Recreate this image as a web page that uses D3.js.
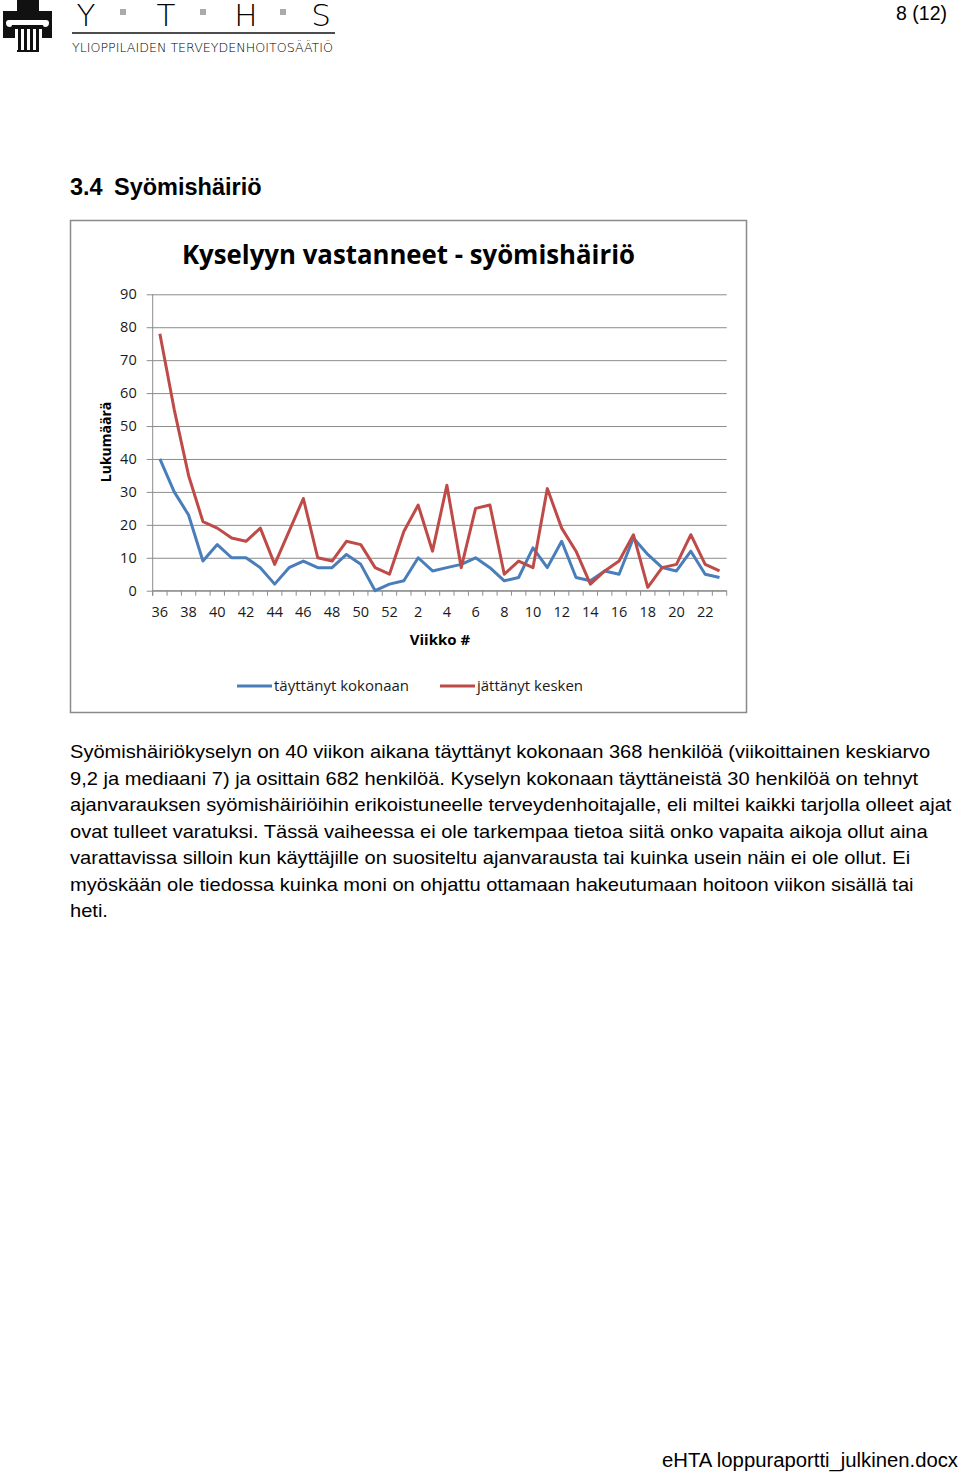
<!DOCTYPE html>
<meta charset="utf-8">
<style>
body { margin: 0; background: #fff; }
svg { display: block; }
.doc { font-family: "Liberation Sans", Arial, sans-serif; fill: #000; }
.chart text { font-family: "Open Sans", "DejaVu Sans", sans-serif; fill: #1a1a1a; }
.grid line { stroke: #8c8c8c; stroke-width: 1; }
.grid .domain { display: none; }
.xax .domain, .xax line { display: none; }
</style>
<body>
<div id="page"></div>
<script src="https://cdn.jsdelivr.net/npm/d3@7"></script>
<script>

// week numbers, autumn 36..52 then spring 1..23
var weeks = [36, 37, 38, 39, 40, 41, 42, 43, 44, 45, 46, 47, 48, 49, 50, 51, 52,
             1, 2, 3, 4, 5, 6, 7, 8, 9, 10, 11, 12, 13, 14, 15, 16, 17, 18, 19, 20, 21, 22, 23];

// täyttänyt kokonaan (blue)
var completed = [40, 30, 23, 9, 14, 10, 10, 7, 2, 7, 9, 7, 7,
                 11, 8, 0, 2, 3, 10, 6, 7, 8, 10, 7, 3, 4,
                 13, 7, 15, 4, 3, 6, 5, 16, 11, 7, 6, 12, 5, 4];

// jättänyt kesken (red)
var abandoned = [78, 55, 35, 21, 19, 16, 15, 19, 8, 18, 28, 10, 9,
                 15, 14, 7, 5, 18, 26, 12, 32, 7, 25, 26, 5, 9,
                 7, 31, 19, 12, 2, 6, 9, 17, 1, 7, 8, 17, 8, 6];

var yTicks = [0, 10, 20, 30, 40, 50, 60, 70, 80, 90];

var seriesNames = ["täyttänyt kokonaan", "jättänyt kesken"];
var seriesColors = ["#4a7ebb", "#be4b48"];

var bodyLines = [
  "Syömishäiriökyselyn on 40 viikon aikana täyttänyt kokonaan 368 henkilöä (viikoittainen keskiarvo",
  "9,2 ja mediaani 7) ja osittain 682 henkilöä. Kyselyn kokonaan täyttäneistä 30 henkilöä on tehnyt",
  "ajanvarauksen syömishäiriöihin erikoistuneelle terveydenhoitajalle, eli miltei kaikki tarjolla olleet ajat",
  "ovat tulleet varatuksi. Tässä vaiheessa ei ole tarkempaa tietoa siitä onko vapaita aikoja ollut aina",
  "varattavissa silloin kun käyttäjille on suositeltu ajanvarausta tai kuinka usein näin ei ole ollut. Ei",
  "myöskään ole tiedossa kuinka moni on ohjattu ottamaan hakeutumaan hoitoon viikon sisällä tai",
  "heti."
];

var W = 960, H = 1473;

var svg = d3.select("#page").append("svg")
    .attr("width", W)
    .attr("height", H);

drawHeader();
drawChart();
drawBody();

function drawHeader(){
  var g = svg.append("g");

  // logo mark: black cross with a white column inside
  g.append("path")
    .attr("d", "M17,0 H39 V11 H52 V38 H39 V52 H17 V38 H3 V11 H17 Z")
    .attr("fill", "#111");
  g.append("path")
    .attr("d", "M9,20 H46 Q49,20 49,23 Q49,27 45,27 Q43,27 43,25 L12,25 Q12,27 10,27 Q6,27 6,23 Q6,20 9,20 Z")
    .attr("fill", "#fff");
  [15, 21, 27, 33, 39].forEach(function(x){
    g.append("rect").attr("x", x).attr("y", 29).attr("width", 3).attr("height", 21).attr("fill", "#fff");
  });

  var letters = ["Y", "T", "H", "S"];
  var lx = [86, 166, 246, 321];
  letters.forEach(function(l, i){
    g.append("text")
      .attr("x", lx[i]).attr("y", 26)
      .attr("text-anchor", "middle")
      .style("font-family", "'DejaVu Sans', sans-serif")
      .style("font-weight", 200)
      .style("font-size", "31px")
      .text(l);
  });
  [123, 203, 283].forEach(function(x){
    g.append("rect").attr("x", x - 3).attr("y", 9).attr("width", 6).attr("height", 6).attr("fill", "#aaa");
  });
  g.append("line")
    .attr("x1", 72).attr("x2", 335).attr("y1", 33).attr("y2", 33)
    .attr("stroke", "#111").attr("stroke-width", 1.5);
  g.append("text")
    .attr("x", 72).attr("y", 52)
    .attr("textLength", 261).attr("lengthAdjust", "spacingAndGlyphs")
    .style("font-family", "'DejaVu Sans', sans-serif")
    .style("font-weight", 200)
    .style("font-size", "12px")
    .text("YLIOPPILAIDEN TERVEYDENHOITOSÄÄTIÖ");

  svg.append("text").attr("class", "doc")
    .attr("x", 947).attr("y", 20)
    .attr("text-anchor", "end")
    .style("font-size", "19.5px")
    .text("8 (12)");

  svg.append("text").attr("class", "doc")
    .attr("x", 70).attr("y", 195)
    .style("font-size", "23.5px").style("font-weight", "bold")
    .text("3.4");
  svg.append("text").attr("class", "doc")
    .attr("x", 114).attr("y", 195)
    .style("font-size", "23.5px").style("font-weight", "bold")
    .text("Syömishäiriö");
}

function drawChart(){
  var g = svg.append("g").attr("class", "chart");

  g.append("rect")
    .attr("x", 70.5).attr("y", 220.5)
    .attr("width", 676).attr("height", 492)
    .attr("fill", "#fff")
    .attr("stroke", "#8a8a8a").attr("stroke-width", 1.5);

  g.append("text")
    .attr("x", 182).attr("y", 264)
    .attr("textLength", 453).attr("lengthAdjust", "spacingAndGlyphs")
    .style("font-size", "27px").style("font-weight", "bold")
    .style("fill", "#000")
    .text("Kyselyyn vastanneet - syömishäiriö");

  var x0 = 152.7, x1 = 726.7, y0 = 590.7, y1 = 294.3;

  var x = d3.scaleBand()
    .domain(d3.range(weeks.length))
    .range([x0, x1])
    .padding(0);

  var y = d3.scaleLinear()
    .domain([0, 90])
    .range([y0, y1]);

  // gridlines + y labels
  var yAxis = d3.axisLeft(y)
    .tickValues(yTicks)
    .tickSize(-(x1 - x0))
    .tickPadding(17)
    .tickSizeOuter(0);

  var gy = g.append("g")
    .attr("class", "grid")
    .attr("transform", "translate(" + x0 + ",0)")
    .call(yAxis);
  gy.selectAll(".tick line").attr("x1", -6);
  gy.selectAll("text")
    .attr("x", -16)
    .style("font-size", "14.5px")
    .style("fill", "#1a1a1a");

  // axis lines
  g.append("line")
    .attr("x1", x0).attr("x2", x0).attr("y1", y1).attr("y2", y0 + 5)
    .attr("stroke", "#8c8c8c");
  g.append("line")
    .attr("x1", x0).attr("x2", x1).attr("y1", y0).attr("y2", y0)
    .attr("stroke", "#8c8c8c");

  // category boundary ticks
  g.selectAll(".btick")
    .data(d3.range(weeks.length + 1))
    .enter().append("line")
    .attr("class", "btick")
    .attr("x1", function(k){ return x0 + k * x.bandwidth(); })
    .attr("x2", function(k){ return x0 + k * x.bandwidth(); })
    .attr("y1", y0).attr("y2", y0 + 5)
    .attr("stroke", "#8c8c8c");

  // x labels, every other week
  var xAxis = d3.axisBottom(x)
    .tickValues(d3.range(0, weeks.length, 2))
    .tickFormat(function(i){ return weeks[i]; })
    .tickSize(0)
    .tickPadding(16);

  g.append("g")
    .attr("class", "xax")
    .attr("transform", "translate(0," + y0 + ")")
    .call(xAxis)
    .selectAll("text")
    .style("font-size", "14.5px")
    .style("fill", "#1a1a1a");

  var line = d3.line()
    .x(function(d, i){ return x(i) + x.bandwidth() / 2; })
    .y(function(d){ return y(d); });

  [completed, abandoned].forEach(function(s, k){
    g.append("path")
      .datum(s)
      .attr("d", line)
      .attr("fill", "none")
      .attr("stroke", seriesColors[k])
      .attr("stroke-width", 3)
      .attr("stroke-linejoin", "round");
  });

  // axis titles
  g.append("text")
    .attr("x", 440).attr("y", 645)
    .attr("text-anchor", "middle")
    .style("font-size", "15px").style("font-weight", "bold")
    .style("fill", "#000")
    .text("Viikko #");

  g.append("text")
    .attr("transform", "translate(111,442) rotate(-90)")
    .attr("text-anchor", "middle")
    .style("font-size", "14px").style("font-weight", "bold")
    .style("fill", "#000")
    .text("Lukumäärä");

  // legend
  var legX = [237, 440];
  seriesNames.forEach(function(n, k){
    g.append("line")
      .attr("x1", legX[k]).attr("x2", legX[k] + 35)
      .attr("y1", 686).attr("y2", 686)
      .attr("stroke", seriesColors[k]).attr("stroke-width", 3);
    g.append("text")
      .attr("x", legX[k] + 37).attr("y", 691)
      .style("font-size", "15px")
      .text(n);
  });
}

function drawBody(){
  // reference text is slightly wider than plain Arial, stretch it a bit
  var body = svg.append("g")
    .attr("transform", "translate(70,0) scale(1.08,1)");

  body.selectAll(".bline")
    .data(bodyLines)
    .enter().append("text")
    .attr("class", "doc bline")
    .attr("x", 0)
    .attr("y", function(d, i){ return 758.5 + i * 26.5; })
    .style("font-size", "18.6px")
    .text(function(d){ return d; });

  svg.append("text").attr("class", "doc")
    .attr("x", 958).attr("y", 1467)
    .attr("text-anchor", "end")
    .attr("textLength", 296).attr("lengthAdjust", "spacingAndGlyphs")
    .style("font-size", "19.5px")
    .text("eHTA loppuraportti_julkinen.docx");
}
</script>
</body>
